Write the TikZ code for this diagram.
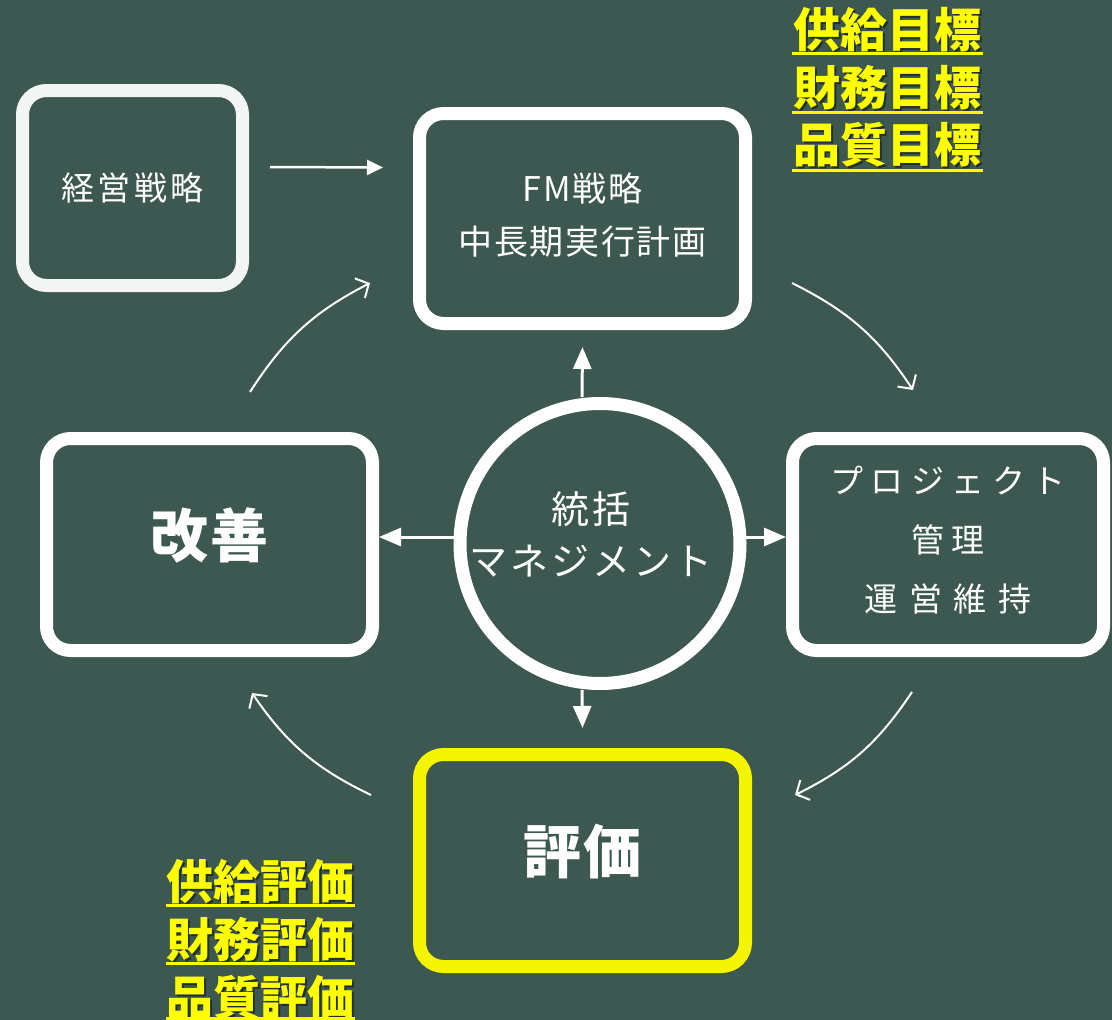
\documentclass[tikz,border=0pt]{standalone}
\usepackage{fontspec}
\setmainfont{Noto Sans CJK JP}
\usetikzlibrary{arrows.meta,calc}
\definecolor{bg}{RGB}{60,88,80}
\definecolor{ylw}{RGB}{245,245,0}
\definecolor{ytxt}{RGB}{255,255,0}
\definecolor{offw}{RGB}{243,245,244}
\begin{document}
\begin{tikzpicture}[x=1pt,y=1pt,
  box/.style={draw=white, line width=13pt, rounded corners=24pt, fill=bg, text=white, align=center, inner sep=0pt},
  bigtxt/.style={font=\fontsize{58}{64}\selectfont\bfseries\addfontfeatures{LetterSpace=5}, text depth=23pt},
  sarrow/.style={draw=white, line width=2.5pt, -{Triangle[length=16pt,width=15pt]}},
  carrow/.style={draw=white, line width=3pt, -{Triangle[length=22pt,width=18pt]}},
  curv/.style={draw=white, line width=2pt, -{Straight Barb[length=10pt,width=22pt,line width=2pt]}},
  ylab/.style={text=ytxt, font=\fontsize{47}{50}\selectfont\bfseries, inner sep=0pt},
  yshadow/.style={text=black, opacity=0.45, font=\fontsize{47}{50}\selectfont\bfseries, inner sep=0pt},
  uline/.style={draw=ytxt, line width=3pt}
]
\fill[bg] (0,0) rectangle (1112,-1020);
\useasboundingbox (0,0) rectangle (1112,-1020);

% boxes
\node[box, draw=offw, minimum width=220pt, minimum height=195pt,
      font=\fontsize{33}{40}\selectfont\addfontfeatures{LetterSpace=10}] (ks) at (132.5,-188) {経営戦略};
\node[box, minimum width=326pt, minimum height=210pt, text depth=10pt,
      font=\fontsize{34}{53}\selectfont\addfontfeatures{LetterSpace=5}] (fm) at (582.5,-218.5) {FM戦略\\中長期実行計画};
\node[box, minimum width=311pt, minimum height=212pt, text depth=12pt,
      font=\fontsize{33}{59}\selectfont\addfontfeatures{LetterSpace=23}] (pj) at (948,-544.5)
      {プロジェクト\\管理\\{\addfontfeatures{LetterSpace=35}運営維持}};
\node[box, minimum width=326pt, minimum height=212pt, bigtxt] (kz) at (209.5,-544.5) {改善};
\node[box, draw=ylw, minimum width=326pt, minimum height=212pt, bigtxt] (hy) at (582.5,-860.5) {評価};
\node[circle, draw=white, line width=13pt, fill=bg, text=white, minimum size=280pt, inner sep=0pt, align=center,
      text depth=19pt, font=\fontsize{38}{52}\selectfont\addfontfeatures{LetterSpace=8}] (c) at (600,-543.5)
      {統括\hspace*{18pt}\\マネジメント\hspace*{18pt}};

% straight arrows
\draw[sarrow] ($(ks.east)+(21,21)$) -- ($(fm.west)+(-30,51)$);
\coordinate (cu) at (582,-397);
\coordinate (cd) at (582,-690);
\coordinate (cr) at (746,-537);
\coordinate (cl) at (454,-537);
\draw[carrow] (cu) -- ($(fm.south)+(0,-17)$);
\draw[carrow] (cd) -- ($(hy.north)+(0,20)$);
\draw[carrow] (cr) -- (cr -| pj.west);
\draw[carrow] (cl) -- (cl -| kz.east);

% curved arrows
\coordinate (a1s) at (250,-392); \coordinate (a1e) at (370,-283);
\coordinate (a2s) at (792,-283); \coordinate (a2e) at (913,-390);
\coordinate (a3s) at (912,-692); \coordinate (a3e) at (795,-795);
\coordinate (a4s) at (371,-795); \coordinate (a4e) at (252,-693);
\draw[curv] (a1s) to[bend left=15] (a1e);
\draw[curv] (a2s) to[bend left=15] (a2e);
\draw[curv] (a3s) to[bend left=15] (a3e);
\draw[curv] (a4s) to[bend left=15] (a4e);

% yellow labels, top right
\node[yshadow] (t1s) at (889.5,-32) {供給目標};
\node[yshadow] (t2s) at (889.5,-90) {財務目標};
\node[yshadow] (t3s) at (889.5,-147) {品質目標};
\node[ylab] (t1) at (887.5,-30) {供給目標};
\node[ylab] (t2) at (887.5,-88) {財務目標};
\node[ylab] (t3) at (887.5,-145) {品質目標};
\draw[uline] ($(t1.center)+(-95.5,-23)$) -- ($(t1.center)+(95.5,-23)$);
\draw[uline] ($(t2.center)+(-95.5,-24)$) -- ($(t2.center)+(95.5,-24)$);
\draw[uline] ($(t3.center)+(-95.5,-25)$) -- ($(t3.center)+(95.5,-25)$);

% yellow labels, bottom left
\node[yshadow] (b1s) at (262.5,-884) {供給評価};
\node[yshadow] (b2s) at (262.5,-942) {財務評価};
\node[yshadow] (b3s) at (262.5,-1000) {品質評価};
\node[ylab] (b1) at (260.5,-882) {供給評価};
\node[ylab] (b2) at (260.5,-940) {財務評価};
\node[ylab] (b3) at (260.5,-998) {品質評価};
\draw[uline] ($(b1.center)+(-94.5,-23)$) -- ($(b1.center)+(94.5,-23)$);
\draw[uline] ($(b2.center)+(-94.5,-23)$) -- ($(b2.center)+(94.5,-23)$);
\draw[uline] ($(b3.center)+(-94.5,-20)$) -- ($(b3.center)+(94.5,-20)$);
\end{tikzpicture}
\end{document}
